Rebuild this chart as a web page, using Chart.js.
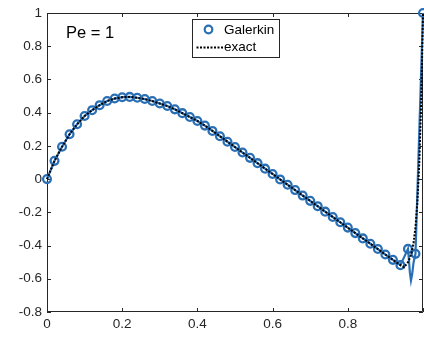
<!DOCTYPE html>
<html>
<head>
<meta charset="utf-8">
<script src="https://cdn.jsdelivr.net/npm/chart.js@4/dist/chart.umd.min.js"></script>
<style>
  html, body { margin: 0; padding: 0; background: #fff; }
  canvas { display: block; }
</style>
</head>
<body>
<canvas id="pe-chart" width="424" height="338"></canvas>
<script>
// Galerkin nodal values (markers)
const nodeX = [
    0, 0.02, 0.04, 0.06, 0.08, 0.10, 0.12, 0.14, 0.16, 0.18,
    0.20, 0.22, 0.24, 0.26, 0.28, 0.30, 0.32, 0.34, 0.36, 0.38,
    0.40, 0.42, 0.44, 0.46, 0.48, 0.50, 0.52, 0.54, 0.56, 0.58,
    0.60, 0.62, 0.64, 0.66, 0.68, 0.70, 0.72, 0.74, 0.76, 0.78,
    0.80, 0.82, 0.84, 0.86, 0.88, 0.90, 0.92, 0.94, 0.96, 0.98, 1.0
];
const nodeY = [
    0, 0.11, 0.195, 0.27, 0.33, 0.38, 0.415, 0.445, 0.47, 0.485,
    0.493, 0.495, 0.49, 0.482, 0.47, 0.455, 0.44, 0.42, 0.397, 0.374,
    0.35, 0.322, 0.29, 0.258, 0.225, 0.193, 0.16, 0.128, 0.096, 0.063,
    0.031, -0.002, -0.034, -0.066, -0.099, -0.131, -0.163, -0.196, -0.228, -0.26,
    -0.292, -0.325, -0.357, -0.389, -0.421, -0.454, -0.486, -0.518, -0.42, -0.45, 1.0
];

// Galerkin solution inside the last elements (line only)
const tailX = [0.962, 0.965, 0.968, 0.971, 0.975];
const tailY = [-0.47, -0.56, -0.61, -0.575, -0.5];

// exact solution
const exactX = [
    0, 0.02, 0.04, 0.06, 0.08, 0.10, 0.12, 0.14, 0.16, 0.18,
    0.20, 0.22, 0.24, 0.26, 0.28, 0.30, 0.32, 0.34, 0.36, 0.38,
    0.40, 0.42, 0.46, 0.50, 0.54, 0.58, 0.62, 0.66, 0.70, 0.74,
    0.78, 0.82, 0.86, 0.90, 0.94, 0.95, 0.96, 0.965, 0.97, 0.975,
    0.98, 0.985, 0.99, 0.995, 1.0
];
const exactY = [
    0, 0.11, 0.195, 0.27, 0.33, 0.38, 0.415, 0.445, 0.47, 0.485,
    0.493, 0.495, 0.49, 0.482, 0.47, 0.455, 0.44, 0.42, 0.397, 0.374,
    0.35, 0.322, 0.258, 0.193, 0.128, 0.063, -0.002, -0.066, -0.131, -0.196,
    -0.26, -0.325, -0.389, -0.454, -0.518, -0.53, -0.5, -0.475, -0.44, -0.38,
    -0.29, -0.14, 0.09, 0.45, 1.0
];

const xTicks = [0, 0.2, 0.4, 0.6, 0.8, 1];
const peLabel = 'Pe = 1';

const blue = '#2a6fb4';
const axisColor = '#262626';
const font = '"Liberation Sans", Arial, Helvetica, sans-serif';

const toPoints = (xs, ys) => xs.map((x, i) => ({ x: x, y: ys[i] }));

const linePoints = toPoints(nodeX, nodeY)
    .concat(toPoints(tailX, tailY))
    .sort((a, b) => a.x - b.x);

const fmt = v => String(Math.round(v * 10) / 10);

// MATLAB-like box with inward ticks
const framePlugin = {
    id: 'frame',
    beforeDatasetsDraw(chart) {
        const { ctx, chartArea: a, scales } = chart;
        const len = 4;
        ctx.save();
        ctx.strokeStyle = axisColor;
        ctx.lineWidth = 1;
        ctx.beginPath();
        ctx.rect(a.left + 0.5, a.top + 0.5, a.right - a.left - 1, a.bottom - a.top - 1);
        scales.x.ticks.forEach(t => {
            const px = Math.round(scales.x.getPixelForValue(t.value)) + 0.5;
            ctx.moveTo(px, a.bottom);
            ctx.lineTo(px, a.bottom - len);
            ctx.moveTo(px, a.top);
            ctx.lineTo(px, a.top + len);
        });
        scales.y.ticks.forEach(t => {
            const py = Math.round(scales.y.getPixelForValue(t.value)) + 0.5;
            ctx.moveTo(a.left, py);
            ctx.lineTo(a.left + len, py);
            ctx.moveTo(a.right, py);
            ctx.lineTo(a.right - len, py);
        });
        ctx.stroke();
        ctx.restore();
    },
    afterDraw(chart) {
        const { ctx, chartArea: a } = chart;
        const ds = chart.data.datasets;
        ctx.save();
        // annotation
        ctx.fillStyle = '#000';
        ctx.font = '16.5px ' + font;
        ctx.textBaseline = 'alphabetic';
        ctx.fillText(peLabel, a.left + 19, a.top + 25);

        // legend
        const bx = 192.5, by = 19.5, bw = 87, bh = 38;
        ctx.fillStyle = '#fff';
        ctx.fillRect(bx, by, bw, bh);
        ctx.strokeStyle = axisColor;
        ctx.lineWidth = 1;
        ctx.strokeRect(bx, by, bw, bh);

        ctx.strokeStyle = blue;
        ctx.lineWidth = 2.2;
        ctx.beginPath();
        ctx.arc(bx + 16, by + 10, 3.8, 0, Math.PI * 2);
        ctx.stroke();

        ctx.strokeStyle = '#000';
        ctx.lineWidth = 2;
        ctx.setLineDash([2, 1.5]);
        ctx.beginPath();
        ctx.moveTo(bx + 4, by + 28);
        ctx.lineTo(bx + 31, by + 28);
        ctx.stroke();
        ctx.setLineDash([]);

        ctx.fillStyle = '#000';
        ctx.font = '13.5px ' + font;
        ctx.textBaseline = 'middle';
        ctx.fillText(ds[1].label, bx + 31.5, by + 11);
        ctx.fillText(ds[0].label, bx + 31.5, by + 28);
        ctx.restore();
    }
};

document.addEventListener('DOMContentLoaded', () => {
    const canvas = document.getElementById('pe-chart');
    const ctx = canvas.getContext('2d');
    new Chart(ctx, {
        type: 'scatter',
        data: {
            datasets: [
                {
                    label: 'exact',
                    data: toPoints(exactX, exactY),
                    showLine: true,
                    borderColor: '#000',
                    borderWidth: 2,
                    borderDash: [2, 1.5],
                    pointRadius: 0,
                    clip: false,
                    order: 0,
                },
                {
                    label: 'Galerkin',
                    data: toPoints(nodeX, nodeY),
                    showLine: false,
                    pointStyle: 'circle',
                    pointRadius: 3.9,
                    pointBorderWidth: 2.3,
                    pointBorderColor: blue,
                    pointBackgroundColor: 'rgba(0,0,0,0)',
                    clip: false,
                    order: 1,
                },
                {
                    label: 'Galerkin line',
                    data: linePoints,
                    showLine: true,
                    borderColor: blue,
                    borderWidth: 2.2,
                    pointRadius: 0,
                    clip: false,
                    order: 2,
                },
            ]
        },
        options: {
            responsive: false,
            animation: false,
            events: [],
            layout: {
                autoPadding: false,
                padding: { top: 13, right: 1, left: 0, bottom: 0 }
            },
            plugins: {
                legend: { display: false },
                tooltip: { enabled: false },
            },
            scales: {
                x: {
                    type: 'linear',
                    min: 0,
                    max: 1,
                    afterBuildTicks: s => { s.ticks = xTicks.map(v => ({ value: v })); },
                    afterFit: s => {
                        s.height = 26;
                        s.paddingLeft = 0;
                        s.paddingRight = 0;
                    },
                    grid: { display: false, drawTicks: false },
                    border: { display: false },
                    ticks: {
                        color: axisColor,
                        padding: 4,
                        maxRotation: 0,
                        font: { family: font, size: 13.5 },
                        callback: v => (v === 1 ? '' : fmt(v)),
                    },
                },
                y: {
                    type: 'linear',
                    min: -0.8,
                    max: 1,
                    afterFit: s => {
                        s.width = 47;
                        s.paddingTop = 0;
                        s.paddingBottom = 0;
                    },
                    grid: { display: false, drawTicks: false },
                    border: { display: false },
                    ticks: {
                        stepSize: 0.2,
                        color: axisColor,
                        padding: 5,
                        font: { family: font, size: 13.5 },
                        callback: v => fmt(v),
                    },
                },
            }
        },
        plugins: [framePlugin]
    });
});
</script>
</body>
</html>
